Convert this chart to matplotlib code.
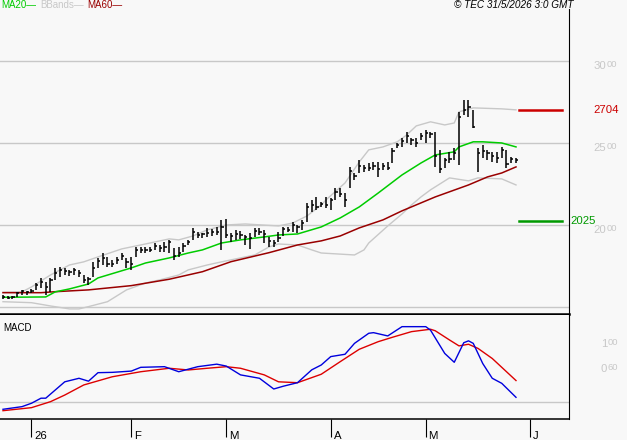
import numpy as np
import matplotlib
matplotlib.use("Agg")
import matplotlib.pyplot as plt

plt.rcParams['font.family'] = ['Liberation Sans', 'DejaVu Sans']

# daily bars (high / low / close)
highs = [1573, 1567, 1567, 1591, 1604, 1598, 1610, 1646, 1677, 1652,
         1677, 1738, 1744, 1738, 1726, 1738, 1726, 1695, 1683, 1775,
         1799, 1829, 1805, 1787, 1805, 1829, 1799, 1805, 1866, 1866,
         1866, 1866, 1890, 1878, 1897, 1909, 1860, 1866, 1890, 1909,
         1982, 1958, 1951, 1982, 1976, 1988, 2031, 2037, 1951, 1970,
         1964, 1939, 1951, 1982, 1982, 1970, 1927, 1909, 1958, 1988,
         1988, 2019, 2000, 2031, 2134, 2153, 2171, 2141, 2171, 2165,
         2226, 2226, 2195, 2354, 2317, 2397, 2366, 2378, 2385, 2385,
         2378, 2385, 2470, 2500, 2531, 2568, 2531, 2531, 2561, 2580,
         2568, 2568, 2458, 2409, 2446, 2470, 2690, 2763, 2763, 2702,
         2470, 2488, 2458, 2446, 2446, 2476, 2458, 2415, 2409]
lows = [1549, 1549, 1549, 1561, 1573, 1573, 1585, 1604, 1616, 1573,
        1591, 1665, 1683, 1695, 1689, 1695, 1683, 1646, 1634, 1683,
        1738, 1756, 1744, 1744, 1762, 1787, 1738, 1726, 1805, 1829,
        1829, 1836, 1848, 1836, 1836, 1829, 1787, 1805, 1836, 1878,
        1909, 1921, 1921, 1927, 1933, 1939, 1848, 1921, 1897, 1909,
        1915, 1878, 1854, 1927, 1939, 1890, 1866, 1866, 1897, 1933,
        1958, 1958, 1951, 1970, 2019, 2080, 2092, 2110, 2104, 2092,
        2153, 2171, 2110, 2226, 2275, 2317, 2324, 2330, 2336, 2293,
        2336, 2336, 2378, 2470, 2476, 2500, 2488, 2476, 2519, 2500,
        2531, 2354, 2317, 2348, 2378, 2397, 2366, 2671, 2659, 2592,
        2324, 2409, 2397, 2385, 2378, 2409, 2348, 2378, 2378]
closes = [1560, 1555, 1560, 1585, 1595, 1590, 1600, 1635, 1650, 1620,
          1665, 1710, 1725, 1720, 1715, 1725, 1705, 1665, 1670, 1740,
          1780, 1800, 1760, 1760, 1785, 1810, 1775, 1760, 1850, 1845,
          1850, 1845, 1870, 1860, 1865, 1895, 1810, 1830, 1870, 1895,
          1960, 1940, 1945, 1950, 1955, 1960, 1990, 1940, 1935, 1945,
          1940, 1925, 1920, 1965, 1960, 1945, 1900, 1890, 1920, 1975,
          1970, 2000, 1985, 2010, 2110, 2120, 2110, 2125, 2120, 2150,
          2200, 2190, 2150, 2330, 2300, 2360, 2345, 2350, 2360, 2340,
          2360, 2350, 2450, 2490, 2510, 2540, 2520, 2500, 2545, 2560,
          2555, 2420, 2340, 2395, 2400, 2440, 2660, 2700, 2720, 2600,
          2440, 2450, 2440, 2420, 2410, 2460, 2370, 2400, 2395]

# indicator lines (bar index, value)
ma20_idx = [0, 9, 11, 14, 18, 20, 27, 30, 35, 39, 42, 46, 50, 55, 58, 62, 67,
            71, 75, 79, 84, 88, 91, 95, 96, 99, 101, 105, 108]
ma20_val = [1559, 1561, 1592, 1610, 1640, 1677, 1738, 1768, 1799, 1829, 1848,
            1890, 1909, 1927, 1939, 1945, 1988, 2043, 2110, 2195, 2305, 2378,
            2427, 2446, 2476, 2507, 2507, 2500, 2476]
ma60_idx = [0, 8, 11, 18, 27, 35, 42, 48, 56, 62, 67, 71, 75, 80, 84, 91, 98,
            102, 105, 108]
ma60_val = [1587, 1587, 1593, 1604, 1630, 1669, 1715, 1776, 1831, 1878, 1903,
            1933, 1982, 2031, 2086, 2171, 2244, 2293, 2317, 2354]
bb_up_idx = [0, 4, 6, 10, 14, 17, 20, 25, 29, 35, 37, 40, 43, 47, 51, 58, 61,
             64, 67, 68, 72, 75, 77, 80, 83, 85, 87, 90, 93, 95, 96, 99, 105, 108]
bb_up_val = [1590, 1592, 1622, 1695, 1756, 1775, 1805, 1854, 1878, 1915, 1909,
             1933, 1970, 2000, 2006, 1994, 2012, 2055, 2122, 2153, 2256, 2384,
             2458, 2476, 2507, 2549, 2604, 2629, 2610, 2622, 2690, 2714, 2708,
             2702]
bb_lo_idx = [0, 6, 10, 14, 16, 18, 22, 26, 30, 33, 37, 39, 43, 46, 48, 53, 56,
             58, 62, 65, 67, 74, 76, 77, 81, 84, 86, 88, 90, 94, 98, 100, 105, 108]
bb_lo_val = [1532, 1526, 1506, 1488, 1488, 1502, 1532, 1604, 1646, 1665, 1695,
             1726, 1756, 1775, 1787, 1817, 1866, 1884, 1878, 1848, 1829, 1817,
             1848, 1890, 1994, 2067, 2122, 2171, 2214, 2287, 2269, 2287, 2281,
             2244]

macd_idx = [0, 4, 6, 8, 9, 11, 13, 16, 18, 20, 23, 27, 29, 34, 37, 39, 41, 45,
            47, 50, 54, 57, 59, 62, 65, 67, 69, 72, 74, 77, 78, 81, 84, 89, 90,
            93, 95, 97, 98, 99, 101, 103, 105, 108]
macd_val = [-11.6, -7.4, -2, 6, 6, 19, 32, 37.6, 33, 46.5, 47, 49, 55, 56, 48,
            52, 56, 60, 57, 43, 37.6, 20.6, 25, 30.6, 51, 58.7, 72, 75.7, 93,
            109, 110, 104.8, 119.5, 119.5, 114, 77, 63, 94, 97, 93, 61, 37.6,
            29.6, 7.4]
sig_idx = [0, 6, 10, 13, 17, 23, 29, 35, 39, 43, 47, 50, 55, 58, 62, 67, 71,
           75, 79, 82, 86, 90, 91, 94, 96, 98, 100, 103, 106, 108]
sig_val = [-13.8, -9, 0.5, 11, 27, 40, 48, 53.5, 50.8, 53.5, 56, 53.5, 43, 32,
           30.6, 44, 64, 83.6, 95.7, 102.7, 111.6, 115.4, 113, 98.4, 89, 91.6,
           85, 69, 48, 34]

resistance = 2704
support = 2025
price_grid = [1500, 2000, 2500, 3000]
month_pos = [6, 27, 47, 69, 89, 111]
month_lbl = ['26', 'F', 'M', 'A', 'M', 'J']

BG = '#f8f8f8'
GRID = '#c8c8c8'
W, H = 627, 440

fig = plt.figure(figsize=(6.27, 4.40), dpi=100, facecolor=BG)
ax = fig.add_axes([0, (H - 314) / H, 569 / W, 305 / H], facecolor=BG)
axm = fig.add_axes([0, (H - 419) / H, 569 / W, 104 / H], facecolor=BG)

xlim = (-3 / 4.75, 566 / 4.75)
idx = np.arange(len(closes))

# price panel
for g in price_grid:
    ax.axhline(g, color=GRID, lw=1.0, zorder=0)
ax.plot(bb_up_idx, bb_up_val, color='#c8c8c8', lw=1.0)
ax.plot(bb_lo_idx, bb_lo_val, color='#c8c8c8', lw=1.0)
ax.plot(ma60_idx, ma60_val, color='#990000', lw=1.1)
ax.plot(ma20_idx, ma20_val, color='#00cc00', lw=1.1)
ax.vlines(idx, lows, highs, color='black', lw=1.1)
ax.hlines(closes, idx, idx + 0.45, color='black', lw=1.1)
ax.axhline(resistance, xmin=519 / 569, xmax=562 / 569, color='#cc0000', lw=1.8)
ax.axhline(support, xmin=519 / 569, xmax=562 / 569, color='#009900', lw=1.8)
ax.set_xlim(*xlim)
ax.set_ylim(1457, 3317)
ax.set_xticks([])
ax.set_yticks([])
for s in ['top', 'left']:
    ax.spines[s].set_visible(False)
ax.spines['right'].set_linewidth(0.8)
ax.spines['bottom'].set_linewidth(1.8)


def split_label(a, value, big, small, split_px, color=GRID):
    # right-axis label, trailing digits drawn smaller and raised
    a.annotate(big, xy=(1, value), xycoords=('axes fraction', 'data'),
               xytext=((split_px - 569) * 0.72, 0), textcoords='offset points',
               ha='right', va='top', fontsize=8.2, color=color)
    a.annotate(small, xy=(1, value), xycoords=('axes fraction', 'data'),
               xytext=((split_px - 569) * 0.72 + 0.3, 0.6), textcoords='offset points',
               ha='left', va='top', fontsize=6.8, color=color)


for g in price_grid[1:]:
    s = str(g)
    split_label(ax, g, s[:2], s[2:], 606)

ax.annotate(str(resistance), xy=(1, resistance), xycoords=('axes fraction', 'data'),
            xytext=((593 - 569) * 0.72, 0), textcoords='offset points',
            ha='left', va='center', fontsize=8.2, color='#cc0000')
ax.annotate(str(support), xy=(1, support), xycoords=('axes fraction', 'data'),
            xytext=(1, 0), textcoords='offset points',
            ha='left', va='center', fontsize=8.2, color='#009900')

# MACD panel
axm.axhline(0, color=GRID, lw=1.0, zorder=0)
axm.plot(sig_idx, sig_val, color='#dd0000', lw=1.0)
axm.plot(macd_idx, macd_val, color='#0000dd', lw=1.0)
axm.set_xlim(*xlim)
axm.set_ylim(-27, 138)
axm.set_yticks([])
for s in ['top', 'left']:
    axm.spines[s].set_visible(False)
axm.spines['right'].set_linewidth(0.8)
axm.spines['bottom'].set_linewidth(1.1)
axm.set_xticks(month_pos)
axm.tick_params(axis='x', length=13, width=0.8, color='black', labelbottom=False)
for p, lbl in zip(month_pos, month_lbl):
    axm.annotate(lbl, xy=(p, 0), xycoords=('data', 'axes fraction'),
                 xytext=(2, -14.6), textcoords='offset points',
                 ha='left', va='baseline', fontsize=8.2, color='black')
split_label(axm, 100, '1', '00', 607)
split_label(axm, 60, '0', '60', 607)
fig.text(3 / W, 1 - 323 / H, 'MACD', fontsize=7, va='top', ha='left')

# header
fig.text(1 / W, 1 - 5 / H, 'MA20\u2014', color='#00cc00', fontsize=7, va='center')
fig.text(40 / W, 1 - 5 / H, 'BBands\u2014', color='#c8c8c8', fontsize=7, va='center')
fig.text(87 / W, 1 - 5 / H, 'MA60\u2014', color='#990000', fontsize=7, va='center')
fig.text(574 / W, 1 - 5 / H, '\u00a9 TEC 31/5/2026 3:0 GMT', fontsize=7.2,
         style='italic', ha='right', va='center')

fig.savefig('out.png', dpi=100, facecolor=BG)
